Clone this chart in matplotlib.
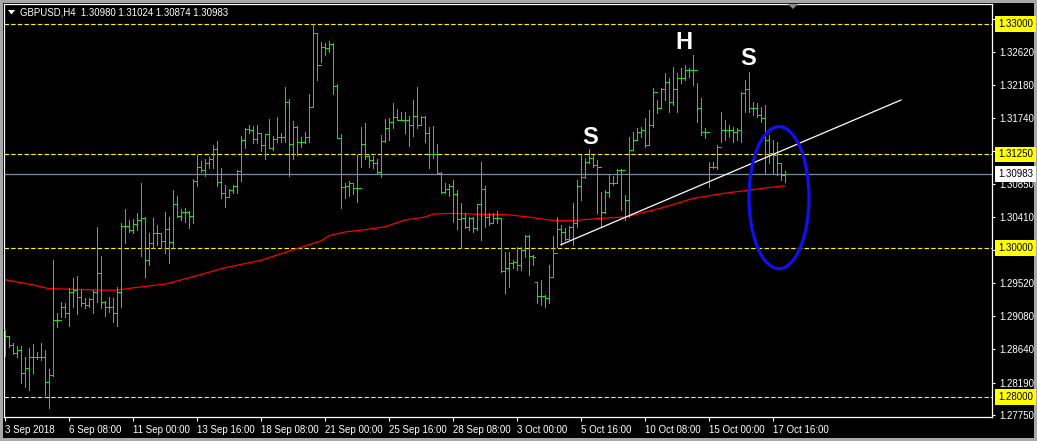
import matplotlib
matplotlib.use("Agg")
import matplotlib.pyplot as plt
from matplotlib.patches import Ellipse, Rectangle, Polygon
import matplotlib.transforms as mtransforms

# ---------------- data (GBPUSD, H4) ----------------
highs = [
    1.2890, 1.2881, 1.2872, 1.2868, 1.2868, 1.2853, 1.2865, 1.2871, 1.2860, 1.2872,
    1.2863, 1.2837, 1.2983, 1.2912, 1.2927, 1.2926, 1.2946, 1.2959, 1.2962, 1.2943,
    1.2932, 1.2932, 1.2943, 1.3028, 1.2989, 1.2928, 1.2934, 1.2932, 1.2947, 1.3033,
    1.3052, 1.3037, 1.3038, 1.3046, 1.3087, 1.3041, 1.3020, 1.3040, 1.3030, 1.3020,
    1.3048, 1.3041, 1.3077, 1.3069, 1.3052, 1.3053, 1.3049, 1.3092, 1.3124, 1.3116,
    1.3119, 1.3122, 1.3138, 1.3143, 1.3107, 1.3084, 1.3079, 1.3084, 1.3104, 1.3150,
    1.3161, 1.3165, 1.3163, 1.3165, 1.3154, 1.3152, 1.3173, 1.3150, 1.3175, 1.3154,
    1.3216, 1.3199, 1.3170, 1.3163, 1.3148, 1.3155, 1.3206, 1.3300, 1.3288, 1.3276,
    1.3275, 1.3277, 1.3275, 1.3220, 1.3152, 1.3087, 1.3089, 1.3087, 1.3124, 1.3162,
    1.3167, 1.3124, 1.3123, 1.3119, 1.3151, 1.3173, 1.3174, 1.3194, 1.3186, 1.3182,
    1.3182, 1.3177, 1.3198, 1.3216, 1.3177, 1.3177, 1.3162, 1.3163, 1.3139, 1.3101,
    1.3087, 1.3085, 1.3091, 1.3077, 1.3060, 1.3046, 1.3041, 1.3041, 1.3059, 1.3115,
    1.3083, 1.3046, 1.3046, 1.3049, 1.3040, 1.2994, 1.2994, 1.2983, 1.3001, 1.3001,
    1.3017, 1.3017, 1.2990, 1.2954, 1.2957, 1.2936, 1.2977, 1.3016, 1.3041, 1.3030,
    1.3026, 1.3029, 1.3060, 1.3091, 1.3124, 1.3120, 1.3132, 1.3124, 1.3118, 1.3075,
    1.3077, 1.3097, 1.3096, 1.3106, 1.3106, 1.3071, 1.3148, 1.3155, 1.3161, 1.3162,
    1.3174, 1.3185, 1.3214, 1.3198, 1.3214, 1.3234, 1.3228, 1.3242, 1.3234, 1.3241,
    1.3245, 1.3241, 1.3258, 1.3221, 1.3201, 1.3161, 1.3115, 1.3115, 1.3138, 1.3182,
    1.3171, 1.3165, 1.3162, 1.3161, 1.3209, 1.3225, 1.3236, 1.3195, 1.3194, 1.3189,
    1.3191, 1.3151, 1.3144, 1.3142, 1.3114, 1.31024,
]
lows = [
    1.2855, 1.2867, 1.2857, 1.2853, 1.2818, 1.2813, 1.2809, 1.2832, 1.2851, 1.2849,
    1.2802, 1.2785, 1.2828, 1.2894, 1.2907, 1.2907, 1.2895, 1.2920, 1.2911, 1.2922,
    1.2919, 1.2920, 1.2912, 1.2927, 1.2919, 1.2908, 1.2914, 1.2900, 1.2895, 1.2920,
    1.3006, 1.3021, 1.3020, 1.3024, 1.2989, 1.2961, 1.2977, 1.3000, 1.3004, 1.3000,
    1.2993, 1.2979, 1.3000, 1.3041, 1.3037, 1.3034, 1.3026, 1.3033, 1.3083, 1.3101,
    1.3096, 1.3107, 1.3107, 1.3083, 1.3067, 1.3055, 1.3068, 1.3073, 1.3073, 1.3089,
    1.3134, 1.3154, 1.3140, 1.3140, 1.3130, 1.3119, 1.3134, 1.3131, 1.3142, 1.3142,
    1.3142, 1.3096, 1.3119, 1.3124, 1.3135, 1.3140, 1.3142, 1.3189, 1.3225, 1.3249,
    1.3258, 1.3262, 1.3206, 1.3147, 1.3053, 1.3066, 1.3069, 1.3072, 1.3061, 1.3108,
    1.3119, 1.3108, 1.3107, 1.3100, 1.3095, 1.3142, 1.3144, 1.3161, 1.3171, 1.3171,
    1.3154, 1.3136, 1.3150, 1.3161, 1.3166, 1.3142, 1.3107, 1.3120, 1.3100, 1.3073,
    1.3073, 1.3069, 1.3034, 1.3025, 1.3000, 1.3026, 1.3024, 1.3021, 1.3024, 1.3010,
    1.3028, 1.3030, 1.3033, 1.3033, 1.2967, 1.2939, 1.2947, 1.2973, 1.2970, 1.2970,
    1.2987, 1.2963, 1.2977, 1.2926, 1.2923, 1.2920, 1.2926, 1.2961, 1.3001, 1.3004,
    1.3010, 1.3013, 1.3004, 1.3028, 1.3064, 1.3093, 1.3114, 1.3108, 1.3046, 1.3028,
    1.3046, 1.3068, 1.3084, 1.3087, 1.3051, 1.3037, 1.3041, 1.3131, 1.3144, 1.3148,
    1.3135, 1.3138, 1.3162, 1.3181, 1.3187, 1.3198, 1.3182, 1.3191, 1.3182, 1.3221,
    1.3225, 1.3229, 1.3218, 1.3169, 1.3151, 1.3147, 1.3081, 1.3107, 1.3105, 1.3142,
    1.3144, 1.3148, 1.3142, 1.3144, 1.3142, 1.3182, 1.3182, 1.3178, 1.3175, 1.3169,
    1.3100, 1.3114, 1.3100, 1.3097, 1.3091, 1.30874,
]
closes = [
    1.2881, 1.2869, 1.2859, 1.2863, 1.2832, 1.2839, 1.2853, 1.2853, 1.2853, 1.2853,
    1.2820, 1.2829, 1.2903, 1.2903, 1.2920, 1.2912, 1.2941, 1.2943, 1.2934, 1.2926,
    1.2923, 1.2931, 1.2941, 1.2966, 1.2927, 1.2920, 1.2920, 1.2912, 1.2941, 1.3029,
    1.3029, 1.3024, 1.3032, 1.3037, 1.3040, 1.2983, 1.3006, 1.3020, 1.3020, 1.3009,
    1.3025, 1.3008, 1.3059, 1.3042, 1.3048, 1.3048, 1.3042, 1.3089, 1.3108, 1.3104,
    1.3114, 1.3119, 1.3132, 1.3088, 1.3073, 1.3068, 1.3077, 1.3083, 1.3103, 1.3144,
    1.3159, 1.3158, 1.3146, 1.3154, 1.3138, 1.3152, 1.3134, 1.3146, 1.3148, 1.3148,
    1.3195, 1.3139, 1.3162, 1.3142, 1.3142, 1.3148, 1.3189, 1.3288, 1.3245, 1.3269,
    1.3268, 1.3273, 1.3217, 1.3147, 1.3081, 1.3083, 1.3087, 1.3080, 1.3080, 1.3139,
    1.3123, 1.3118, 1.3114, 1.3101, 1.3143, 1.3161, 1.3169, 1.3175, 1.3171, 1.3171,
    1.3171, 1.3165, 1.3177, 1.3165, 1.3175, 1.3154, 1.3126, 1.3126, 1.3100, 1.3075,
    1.3079, 1.3083, 1.3072, 1.3038, 1.3040, 1.3028, 1.3040, 1.3026, 1.3059, 1.3079,
    1.3041, 1.3033, 1.3040, 1.3040, 1.2969, 1.2973, 1.2979, 1.2981, 1.2977, 1.2997,
    1.3016, 1.2989, 1.2987, 1.2935, 1.2935, 1.2932, 1.2961, 1.2993, 1.3025, 1.3021,
    1.3012, 1.3028, 1.3033, 1.3083, 1.3095, 1.3115, 1.3120, 1.3111, 1.3108, 1.3048,
    1.3075, 1.3087, 1.3087, 1.3104, 1.3104, 1.3064, 1.3131, 1.3144, 1.3155, 1.3158,
    1.3138, 1.3165, 1.3209, 1.3187, 1.3213, 1.3222, 1.3195, 1.3213, 1.3228, 1.3228,
    1.3238, 1.3238, 1.3238, 1.3187, 1.3155, 1.3155, 1.3108, 1.3108, 1.3135, 1.3158,
    1.3158, 1.3158, 1.3155, 1.3158, 1.3207, 1.3213, 1.3187, 1.3187, 1.3178, 1.3174,
    1.3144, 1.3127, 1.3124, 1.3114, 1.3098, 1.30983,
]
opens = [
    1.2890, 1.2881, 1.2869, 1.2859, 1.2863, 1.2832, 1.2839, 1.2853, 1.2853, 1.2853,
    1.2853, 1.2820, 1.2829, 1.2903, 1.2903, 1.2920, 1.2912, 1.2941, 1.2943, 1.2934,
    1.2926, 1.2923, 1.2931, 1.2941, 1.2966, 1.2927, 1.2920, 1.2920, 1.2912, 1.2941,
    1.3029, 1.3029, 1.3024, 1.3032, 1.3037, 1.3040, 1.2983, 1.3006, 1.3020, 1.3020,
    1.3009, 1.3025, 1.3008, 1.3059, 1.3042, 1.3048, 1.3048, 1.3042, 1.3089, 1.3108,
    1.3104, 1.3114, 1.3119, 1.3132, 1.3088, 1.3073, 1.3068, 1.3077, 1.3083, 1.3103,
    1.3144, 1.3159, 1.3158, 1.3146, 1.3154, 1.3138, 1.3152, 1.3134, 1.3146, 1.3148,
    1.3148, 1.3195, 1.3139, 1.3162, 1.3142, 1.3142, 1.3148, 1.3189, 1.3288, 1.3245,
    1.3269, 1.3268, 1.3273, 1.3217, 1.3147, 1.3081, 1.3083, 1.3087, 1.3080, 1.3080,
    1.3139, 1.3123, 1.3118, 1.3114, 1.3101, 1.3143, 1.3161, 1.3169, 1.3175, 1.3171,
    1.3171, 1.3171, 1.3165, 1.3177, 1.3165, 1.3175, 1.3154, 1.3126, 1.3126, 1.3100,
    1.3075, 1.3079, 1.3083, 1.3072, 1.3038, 1.3040, 1.3028, 1.3040, 1.3026, 1.3059,
    1.3079, 1.3041, 1.3033, 1.3040, 1.3040, 1.2969, 1.2973, 1.2979, 1.2981, 1.2977,
    1.2997, 1.3016, 1.2989, 1.2954, 1.2935, 1.2935, 1.2932, 1.2961, 1.2993, 1.3025,
    1.3021, 1.3012, 1.3028, 1.3033, 1.3083, 1.3095, 1.3115, 1.3120, 1.3111, 1.3108,
    1.3048, 1.3075, 1.3087, 1.3087, 1.3104, 1.3104, 1.3064, 1.3131, 1.3144, 1.3155,
    1.3158, 1.3138, 1.3165, 1.3209, 1.3187, 1.3213, 1.3222, 1.3195, 1.3213, 1.3228,
    1.3228, 1.3238, 1.3238, 1.3238, 1.3187, 1.3155, 1.3155, 1.3108, 1.3108, 1.3135,
    1.3158, 1.3158, 1.3158, 1.3155, 1.3158, 1.3207, 1.3213, 1.3187, 1.3187, 1.3178,
    1.3174, 1.3144, 1.3127, 1.3124, 1.3114, 1.30980,
]

# moving average (red) read at selected bars
ma_idx = [0, 4, 7, 11, 24, 28, 32, 40, 47, 55, 64, 72, 79, 81, 85, 90, 95, 100,
          105, 107, 112, 117, 126, 131, 136, 141, 146, 151, 155, 164, 172, 180,
          186, 190, 195]
ma_val = [1.2957, 1.2953, 1.2950, 1.2945, 1.2943, 1.2943, 1.2946, 1.2951, 1.2961,
          1.2973, 1.2983, 1.2997, 1.3009, 1.3016, 1.3021, 1.3024, 1.3028, 1.3037,
          1.3041, 1.3045, 1.3046, 1.3045, 1.3044, 1.3041, 1.3037, 1.3036, 1.3038,
          1.3040, 1.3041, 1.3053, 1.3066, 1.3073, 1.3077, 1.3080, 1.3083]

# trend line (white)
trend_x = [139, 224]
trend_y = [1.3004, 1.3198]

# horizontal levels
levels = [1.33000, 1.31250, 1.30000, 1.28000]
bid = 1.30983

# y-axis scale labels (those hidden under the level boxes are left unlabeled)
yticks = [1.27750, 1.28190, 1.28640, 1.29080, 1.29520, 1.29970, 1.30410,
          1.30850, 1.31300, 1.31740, 1.32180, 1.32620, 1.33070]
ytick_labels = ["1.27750", "1.28190", "1.28640", "1.29080", "1.29520", "",
                "1.30410", "1.30850", "", "1.31740", "1.32180", "1.32620", ""]

# time axis labels (every 16 bars)
xtick_idx = [0, 16, 32, 48, 64, 80, 96, 112, 128, 144, 160, 176, 192]
xtick_labels = ["3 Sep 2018", "6 Sep 08:00", "11 Sep 00:00", "13 Sep 16:00",
                "18 Sep 08:00", "21 Sep 00:00", "25 Sep 16:00", "28 Sep 08:00",
                "3 Oct 00:00", "5 Oct 16:00", "10 Oct 08:00", "15 Oct 00:00",
                "17 Oct 16:00"]

# pattern annotations
pattern_labels = ["S", "H", "S"]
pattern_x = [146.25, 169.75, 185.75]
pattern_y = [1.3148, 1.3275, 1.3254]

# highlight ellipse (center bar, center price, width in bars, height in price)
ell_center = (193.5, 1.3067)
ell_w, ell_h = 15.0, 0.01905

title = "GBPUSD,H4  1.30980 1.31024 1.30874 1.30983"

# ---------------- drawing ----------------
plt.rcParams['font.family'] = ['Liberation Sans', 'DejaVu Sans']

W, H = 1037, 441
fig = plt.figure(figsize=(W / 100, H / 100), dpi=100)
fig.patch.set_facecolor('#a8a8a8')
fig.patches.append(Rectangle((3 / W, 3 / H), (1034 - 3) / W, (438 - 3) / H,
                             transform=fig.transFigure, facecolor='black',
                             edgecolor='none', zorder=-10))

ax_left, ax_right, ax_top, ax_bot = 4, 992, 4, 417
ax = fig.add_axes([ax_left / W, (H - ax_bot) / H,
                   (ax_right - ax_left) / W, (ax_bot - ax_top) / H])
ax.set_zorder(1)
ax.set_facecolor('black')
for sp in ax.spines.values():
    sp.set_color('white')
    sp.set_linewidth(0.9)

ax.set_xlim(-0.25, 246.75)
ax.set_ylim(1.27728, 1.33268)

GREEN = '#19dc19'
LW = 0.72
xs = list(range(len(closes)))
ax.vlines(xs, lows, highs, color=GREEN, lw=LW, antialiased=False, zorder=3)
ax.hlines(opens, [i - 0.4 for i in xs], xs, color=GREEN, lw=LW,
          antialiased=False, zorder=3)
ax.hlines(closes, xs, [i + 0.4 for i in xs], color=GREEN, lw=LW,
          antialiased=False, zorder=3)

# levels
for lv in levels:
    ax.axhline(lv, color='#ffff00', lw=0.8, linestyle=(0, (4, 2)), zorder=1.5)
ax.axhline(bid, color='#7f8c9c', lw=0.9, zorder=1.5)

# MA
ax.plot(ma_idx, ma_val, color='#ff0000', lw=0.9, zorder=2.5)
# trend line
ax.plot(trend_x, trend_y, color='white', lw=0.9, zorder=4)

# ellipse
ax.add_patch(Ellipse(ell_center, ell_w, ell_h, fill=False,
                     edgecolor='#1010f0', lw=2.3, zorder=5))

# pattern letters
for t, px, py in zip(pattern_labels, pattern_x, pattern_y):
    ax.text(px, py, t, color='white', fontsize=17, fontweight='bold',
            ha='center', va='center', zorder=6)

# axes ticks
ax.yaxis.tick_right()
ax.set_yticks(yticks)
ax.set_yticklabels(ytick_labels)
ax.set_xticks(xtick_idx)
ax.set_xticklabels(xtick_labels)
ax.tick_params(axis='y', colors='white', length=2.5, width=0.8, pad=2.5,
               labelsize=7)
ax.tick_params(axis='x', colors='white', length=3, width=0.8, pad=2.5,
               labelsize=7)
for lab in ax.get_xticklabels():
    lab.set_ha('left')
    lab.set_color('white')
for lab in ax.get_yticklabels():
    lab.set_color('white')

# price boxes on right
trans = mtransforms.blended_transform_factory(ax.transAxes, ax.transData)
bx = 1.0 + 6 / (ax_right - ax_left)
for lv in levels:
    ax.text(bx, lv, f"{lv:.5f}", transform=trans, color='black', fontsize=7,
            ha='left', va='center', clip_on=False, zorder=10,
            bbox=dict(boxstyle='square,pad=0.3', fc='#ffff00', ec='none'))
ax.text(bx, bid, f"{bid:.5f}", transform=trans, color='black', fontsize=7,
        ha='left', va='center', clip_on=False, zorder=10,
        bbox=dict(boxstyle='square,pad=0.3', fc='white', ec='none'))

# title and small markers
fig.text(20 / W, 1 - 12.5 / H, title, color='white', fontsize=6.9,
         ha='left', va='center', zorder=5)
fig.patches.append(Polygon([(8 / W, 1 - 10 / H), (15 / W, 1 - 10 / H),
                            (11.5 / W, 1 - 14.5 / H)], closed=True,
                           transform=fig.transFigure, facecolor='white',
                           edgecolor='none', zorder=5))
fig.patches.append(Polygon([(788 / W, 1 - 4 / H), (798 / W, 1 - 4 / H),
                            (793 / W, 1 - 9 / H)], closed=True,
                           transform=fig.transFigure, facecolor='#8a8a8a',
                           edgecolor='none', zorder=5))

fig.savefig('out.png', dpi=100, facecolor=fig.get_facecolor())
